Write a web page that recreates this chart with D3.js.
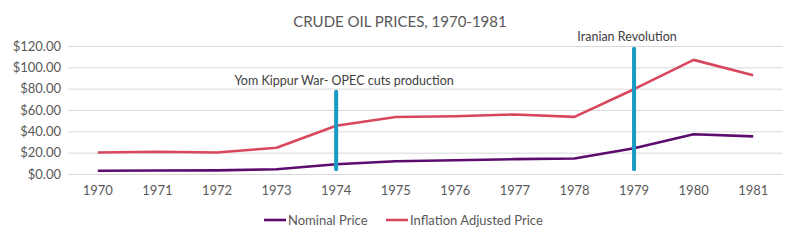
<!DOCTYPE html>
<html>
<head>
<meta charset="utf-8">
<script src="https://cdn.jsdelivr.net/npm/d3@7"></script>
<style>
  body { margin: 0; background: #fff; }
  svg { font-family: Lato, "Open Sans", sans-serif; }
</style>
</head>
<body>
<svg width="785" height="240"></svg>
<script>
// chart data
var years = ["1970", "1971", "1972", "1973", "1974", "1975", "1976", "1977", "1978", "1979", "1980", "1981"];
var nominal = [3.0, 3.3, 3.4, 4.4, 9.2, 11.9, 12.9, 13.9, 14.6, 24.2, 37.2, 35.3];
var inflation = [20.2, 20.8, 20.1, 24.6, 45.2, 53.4, 54.2, 55.8, 53.6, 79.5, 107.0, 92.6];
var yTicks = [0, 20, 40, 60, 80, 100, 120];
var eventYears = ["1974", "1979"];
var eventLabels = ["Yom Kippur War- OPEC cuts production", "Iranian Revolution"];
var eventTop = [77, 117.5];
var eventBottom = [4.5, 4.5];
var eventLabelAt = [83, 125];
var seriesNames = ["Nominal Price", "Inflation Adjusted Price"];
var seriesColors = ["#5c0b6e", "#d9475e"];

var svg = d3.select("svg"),
    margin = {top: 46, right: 2, bottom: 66, left: 68},
    width = +svg.attr("width") - margin.left - margin.right,
    height = +svg.attr("height") - margin.top - margin.bottom;

var x = d3.scaleBand().domain(years).range([0, width]);
var y = d3.scaleLinear().domain([0, 120]).range([height, 0]);

var g = svg.append("g")
    .attr("transform", "translate(" + margin.left + "," + margin.top + ")");

// title
svg.append("text")
    .attr("x", 400)
    .attr("y", 27)
    .attr("text-anchor", "middle")
    .attr("fill", "#595959")
    .style("font-size", "15px")
    .text("CRUDE OIL PRICES, 1970-1981");

// gridlines
g.selectAll(".grid")
    .data(yTicks)
    .enter().append("line")
    .attr("x1", 0)
    .attr("x2", width)
    .attr("y1", function(d) { return y(d) + 0.5; })
    .attr("y2", function(d) { return y(d) + 0.5; })
    .attr("stroke", "#d9d9d9")
    .attr("stroke-width", 1);

// y axis
var yAxis = g.append("g")
    .call(d3.axisLeft(y).tickValues(yTicks).tickSize(0).tickPadding(7)
        .tickFormat(function(d) { return "$" + d3.format(",.2f")(d); }));
yAxis.select(".domain").remove();
yAxis.selectAll("text").attr("fill", "#595959").style("font-size", "13px")
    .style("font-family", "Lato, sans-serif");

// x axis
var xAxis = g.append("g")
    .attr("transform", "translate(0," + height + ")")
    .call(d3.axisBottom(x).tickSize(0).tickPadding(12));
xAxis.select(".domain").remove();
xAxis.selectAll("text").attr("fill", "#595959").style("font-size", "13px")
    .style("font-family", "Lato, sans-serif");

// lines
var line = d3.line()
    .x(function(d, i) { return x(years[i]) + x.bandwidth() / 2; })
    .y(function(d) { return y(d); });

[nominal, inflation].forEach(function(s, i) {
    g.append("path")
        .datum(s)
        .attr("fill", "none")
        .attr("stroke", seriesColors[i])
        .attr("stroke-width", 2.6)
        .attr("stroke-linejoin", "round")
        .attr("d", line);
});

// event markers
eventYears.forEach(function(yr, i) {
    var cx = x(yr) + x.bandwidth() / 2;
    g.append("line")
        .attr("x1", cx).attr("x2", cx)
        .attr("y1", y(eventTop[i]))
        .attr("y2", y(eventBottom[i]))
        .attr("stroke", "#1a9bc3")
        .attr("stroke-width", 4)
        .attr("stroke-linecap", "round");
    g.append("text")
        .attr("x", cx + (i === 0 ? 8 : -7))
        .attr("y", y(eventLabelAt[i]))
        .attr("text-anchor", "middle")
        .attr("fill", "#404040")
        .style("font-size", "12.5px")
        .text(eventLabels[i]);
});

// legend
var legendX = [264, 386];
seriesNames.forEach(function(name, i) {
    var lg = svg.append("g").attr("transform", "translate(" + legendX[i] + ",220)");
    lg.append("line")
        .attr("x1", 0).attr("x2", 22)
        .attr("stroke", seriesColors[i])
        .attr("stroke-width", 2.6);
    lg.append("text")
        .attr("x", 24)
        .attr("y", 4.5)
        .attr("fill", "#595959")
        .style("font-size", "13px")
        .text(name);
});
</script>
</body>
</html>
